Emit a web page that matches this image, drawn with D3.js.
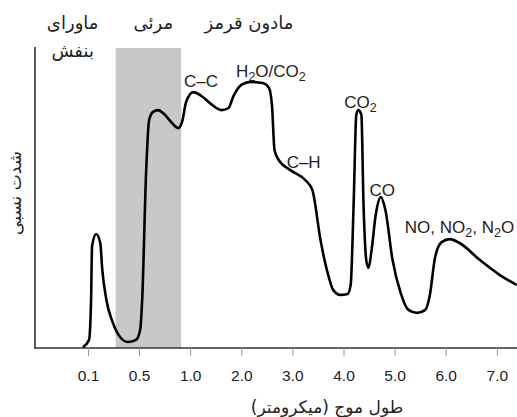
<!DOCTYPE html>
<html>
<head>
<meta charset="utf-8">
<script src="https://cdn.jsdelivr.net/npm/d3@7"></script>
<style>
  body { margin: 0; background: #fff; }
  svg text { font-family: "Liberation Sans", Arial, sans-serif; }
  .fa { font-family: "DejaVu Sans", "Noto Sans", sans-serif; }
</style>
</head>
<body>
<div id="chart"></div>
<script>
// tick labels of the (non-linear) wavelength axis, micrometres
const tickValues = [0.1, 0.5, 1, 2, 3, 4, 5, 6, 7];

// relative intensity curve
const wavelength = [0.06, 0.108, 0.124, 0.132, 0.164, 0.196, 0.212, 0.244, 0.292, 0.34, 0.412, 0.476, 0.51, 0.53,
  0.569, 0.598, 0.637, 0.686, 0.745, 0.814, 0.882, 0.92, 0.96, 1.06, 1.22, 1.41, 1.61, 1.75, 1.84, 2.0, 2.19, 2.42,
  2.54, 2.6, 2.65, 2.73, 2.96, 3.25, 3.39, 3.55, 3.69, 3.8, 3.94, 4.08, 4.14, 4.2, 4.25, 4.29, 4.35, 4.39, 4.45, 4.49,
  4.55, 4.63, 4.73, 4.82, 4.96, 5.12, 5.27, 5.44, 5.6, 5.69, 5.79, 5.92, 6.08, 6.27, 6.67, 7.06, 7.39];
const intensity = [0.3, 2.7, 16, 34, 38, 35, 26, 16, 8.7, 4.3, 2, 2.7, 6, 16,
  59, 76, 78.7, 79.3, 78, 75.3, 73.3, 75.3, 82, 85.3, 84, 81.3, 79.3, 80, 83.7, 87.7, 88.7, 88.3,
  86.7, 81, 66, 62.7, 59.3, 56, 52.7, 36, 25, 19.3, 17.7, 18, 21, 49, 77.7, 79.3, 77.7, 49, 28.7, 26.7,
  32.7, 44.3, 50.3, 46, 29.3, 18.3, 12.7, 11.7, 12.7, 17.7, 30, 35.3, 36.3, 35, 29.3, 24.3, 21];

// visible band (grey)
const visibleBand = [0.316, 0.912];

// region labels
const regions = [
  { lines: ["ماورای", "بنفش"], at: -0.02 },
  { lines: ["مرئی"], at: 0.64 },
  { lines: ["مادون قرمز"], at: 2.15 }
];

// peak labels
const peaks = [
  { name: "C–C", at: 1.21, v: 87 },
  { name: "H2O/CO2", at: 2.58, v: 90.3 },
  { name: "C–H", at: 3.22, v: 60 },
  { name: "CO2", at: 4.33, v: 80 },
  { name: "CO", at: 4.76, v: 50.7 },
  { name: "NO, NO2, N2O", at: 6.27, v: 38.3 }
];

const width = 517, height = 417;
const plotLeft = 35, plotRight = 517, plotTop = 48, plotBottom = 348;

const svg = d3.select("#chart").append("svg")
  .attr("width", width)
  .attr("height", height);

const x = d3.scaleLinear()
  .domain(tickValues)
  .range(tickValues.map((d, i) => 88 + i * 51.1));

const y = d3.scaleLinear().domain([0, 100]).range([plotBottom, plotTop]);

// grey visible band
svg.append("rect")
  .attr("x", x(visibleBand[0]))
  .attr("y", y(100))
  .attr("width", x(visibleBand[1]) - x(visibleBand[0]))
  .attr("height", y(0) - y(100))
  .attr("fill", "#c8c8c8");

// axis lines
svg.append("line")
  .attr("x1", plotLeft).attr("x2", plotLeft)
  .attr("y1", plotTop - 1).attr("y2", plotBottom + 1)
  .attr("stroke", "#333").attr("stroke-width", 1.6);
svg.append("line")
  .attr("x1", plotLeft).attr("x2", plotRight)
  .attr("y1", plotBottom).attr("y2", plotBottom)
  .attr("stroke", "#333").attr("stroke-width", 1.6);

const xAxis = svg.append("g")
  .attr("transform", `translate(0,${plotBottom})`)
  .call(d3.axisBottom(x).tickValues(tickValues).tickFormat(d3.format(".1f")).tickSize(8).tickPadding(14));
xAxis.select(".domain").remove();
xAxis.selectAll(".tick line").attr("stroke", "#999").attr("stroke-width", 1);
xAxis.selectAll(".tick text")
  .attr("fill", "#222")
  .style("font-size", "15.5px")
  .style("font-family", "Liberation Sans, Arial, sans-serif");

// curve
const pts = wavelength.map((w, i) => [w, intensity[i]]);
svg.append("path")
  .datum(pts)
  .attr("fill", "none")
  .attr("stroke", "#000")
  .attr("stroke-width", 2.6)
  .attr("stroke-linejoin", "round")
  .attr("d", d3.line().x(d => x(d[0])).y(d => y(d[1])).curve(d3.curveMonotoneX));

// region labels
regions.forEach(r => {
  r.lines.forEach((t, j) => {
    svg.append("text")
      .attr("class", "fa")
      .attr("x", x(r.at))
      .attr("y", 29 + j * 28)
      .attr("text-anchor", "middle")
      .attr("direction", "rtl")
      .style("font-size", "18px")
      .attr("fill", "#222")
      .text(t);
  });
});

// peak labels with subscripts
peaks.forEach(p => {
  const t = svg.append("text")
    .attr("x", x(p.at))
    .attr("y", y(p.v))
    .attr("text-anchor", "middle")
    .attr("fill", "#222")
    .style("font-size", "17px");
  let prevSub = false;
  p.name.split(/(\d)/).forEach(part => {
    if (part === "") return;
    if (/\d/.test(part)) {
      t.append("tspan").attr("dy", 4).style("font-size", "12.5px").text(part);
      prevSub = true;
    } else {
      const ts = t.append("tspan").text(part);
      if (prevSub) ts.attr("dy", -4);
      prevSub = false;
    }
  });
});

// axis titles
svg.append("text")
  .attr("class", "fa")
  .attr("x", 327)
  .attr("y", 413)
  .attr("text-anchor", "middle")
  .attr("direction", "rtl")
  .attr("fill", "#222")
  .style("font-size", "17px")
  .text("طول موج (میکرومتر)");

svg.append("text")
  .attr("class", "fa")
  .attr("transform", `translate(21,${(plotTop + plotBottom) / 2 - 5}) rotate(-90)`)
  .attr("text-anchor", "middle")
  .attr("direction", "rtl")
  .attr("fill", "#222")
  .style("font-size", "17px")
  .text("شدت نسبی");
</script>
</body>
</html>
